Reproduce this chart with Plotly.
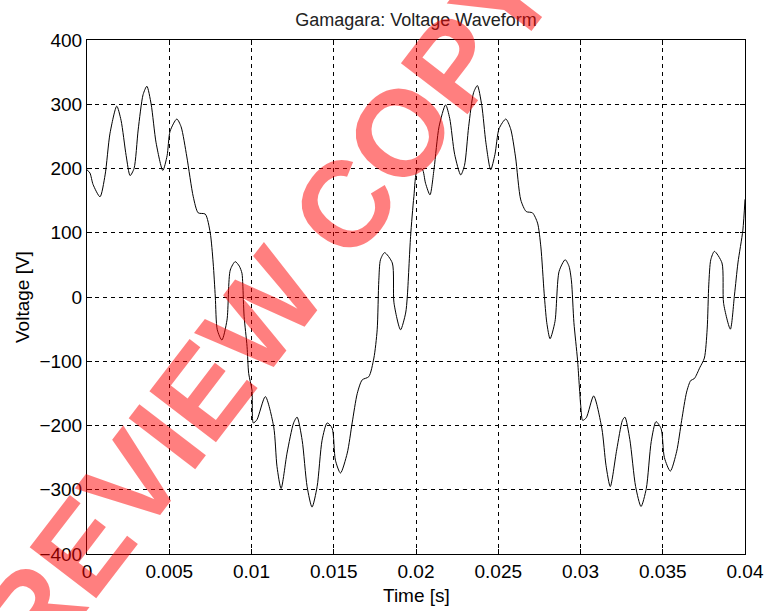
import plotly.graph_objects as go

# time in milliseconds, voltage in volts
time_ms = [
    0.00, 0.18, 0.37, 0.79, 1.10, 1.40, 1.81, 2.07, 2.38, 2.62, 2.86, 3.11, 3.41, 3.64, 3.90, 4.20,
    4.61, 4.87, 5.05, 5.46, 5.72, 6.07, 6.46, 6.76, 7.19, 7.49, 7.67, 7.80, 7.92, 8.20, 8.51, 8.71,
    9.01, 9.26, 9.42, 9.47, 9.55, 9.73, 9.83, 10.03, 10.11, 10.33, 10.84, 11.35, 11.55, 11.80, 12.16,
    12.56, 12.77, 13.08, 13.38, 13.68, 13.99, 14.29, 14.60, 14.90, 15.10, 15.41, 15.82, 16.12, 16.43,
    16.73, 17.13, 17.44, 17.64, 17.74, 17.84, 18.09, 18.56, 18.66, 19.06, 19.37, 19.47, 19.67, 19.87,
    20.08, 20.38, 20.58, 20.85, 21.10, 21.40, 21.80, 22.05, 22.35, 22.72, 22.95, 23.20, 23.50, 23.73,
    24.00, 24.25, 24.54, 24.80, 25.05, 25.46, 25.75, 26.05, 26.37, 26.70, 27.08, 27.39, 27.59, 27.79,
    27.95, 28.15, 28.45, 28.70, 29.07, 29.30, 29.45, 29.60, 29.82, 30.02, 30.13, 30.35, 30.80, 31.30,
    31.55, 31.81, 32.20, 32.55, 32.70, 33.00, 33.35, 33.68, 34.00, 34.30, 34.59, 34.90, 35.10, 35.46,
    35.85, 36.15, 36.45, 36.70, 36.92, 37.25, 37.53, 37.70, 37.80, 37.92, 38.14, 38.60, 38.70, 39.11,
    39.36, 39.57, 39.87, 40.00,
]
voltage = [
    198, 193, 175, 156, 190, 255, 297, 275, 220, 189, 200, 260, 315, 328, 300, 240,
    197, 220, 258, 277, 265, 218, 156, 131, 129, 100, 53, 0, -51, -67, -36, 42,
    55, 48, 37, 20, -30, -77, -119, -145, -196, -191, -155, -202, -264, -298, -243,
    -196, -187, -223, -295, -327, -295, -223, -196, -204, -254, -274, -243, -196, -150,
    -129, -124, -95, -51, 26, 58, 69, 53, -9, -51, -25, 0, 94, 156,
    198, 199, 177, 159, 200, 265, 299, 278, 222, 190, 205, 265, 318, 329,
    298, 240, 198, 222, 262, 277, 262, 218, 151, 133, 131, 115, 78, 6,
    -40, -65, -38, 40, 58, 48, 25, -40, -98, -171, -192, -188, -154, -205,
    -262, -295, -238, -192, -187, -222, -295, -326, -298, -225, -194, -205, -250, -271,
    -240, -192, -148, -130, -127, -110, -95, -50, 20, 58, 71, 53, -10, -50,
    3, 53, 104, 152,
]
time_s = [t / 1000.0 for t in time_ms]

x_ticks = [0, 0.005, 0.01, 0.015, 0.02, 0.025, 0.03, 0.035, 0.04]
x_tick_text = ["0", "0.005", "0.01", "0.015", "0.02", "0.025", "0.03", "0.035", "0.04"]
y_ticks = [-400, -300, -200, -100, 0, 100, 200, 300, 400]

title_text = "Gamagara: Voltage Waveform"
x_title = "Time [s]"
y_title = "Voltage [V]"
watermark = "REVIEW COPY"

FONT = "Liberation Sans, Arial, sans-serif"

fig = go.Figure()
fig.add_trace(go.Scatter(
    x=time_s, y=voltage, mode="lines",
    line=dict(color="black", width=1, shape="spline", smoothing=0.7),
    showlegend=False, hoverinfo="skip",
))

axis_common = dict(
    showline=True, linecolor="black", linewidth=1, mirror="allticks",
    ticks="inside", ticklen=5, tickcolor="black", tickwidth=1,
    showgrid=True, gridcolor="black", gridwidth=1, griddash="4px,4px",
    zeroline=False, tickfont=dict(family=FONT, size=19, color="black"),
)

fig.update_layout(
    width=766, height=611,
    margin=dict(l=87, r=21, t=40, b=57, autoexpand=False),
    paper_bgcolor="white", plot_bgcolor="white",
    font=dict(family=FONT, size=19, color="black"),
    title=dict(text=title_text, x=0.5, xref="paper", xanchor="center",
               y=1 - 20 / 611, yref="container", yanchor="middle",
               font=dict(family=FONT, size=18, color="#222")),
    xaxis=dict(range=[0, 0.04], tickvals=x_ticks, ticktext=x_tick_text, **axis_common),
    yaxis=dict(range=[-400, 400], tickvals=y_ticks, **axis_common),
    annotations=[
        dict(text=x_title, xref="paper", yref="paper", x=0.5, y=(554 - 595) / 514,
             xanchor="center", yanchor="middle", showarrow=False,
             font=dict(family=FONT, size=19, color="black")),
        dict(text=y_title, xref="paper", yref="paper", x=(22 - 87) / 658, y=0.5,
             xanchor="center", yanchor="middle", showarrow=False, textangle=-90,
             font=dict(family=FONT, size=19, color="black")),
        dict(text="<b>" + watermark + "</b>", xref="paper", yref="paper",
             x=(266 - 87) / 658, y=(554 - 308) / 514,
             xanchor="center", yanchor="middle", showarrow=False, textangle=-52.5,
             font=dict(family="Liberation Sans, Arial, sans-serif", size=122,
                       color="rgba(255,0,0,0.5)")),
    ],
)

fig.write_html("out.html", config={"displayModeBar": False},
               post_script="document.body.style.margin='0';")
